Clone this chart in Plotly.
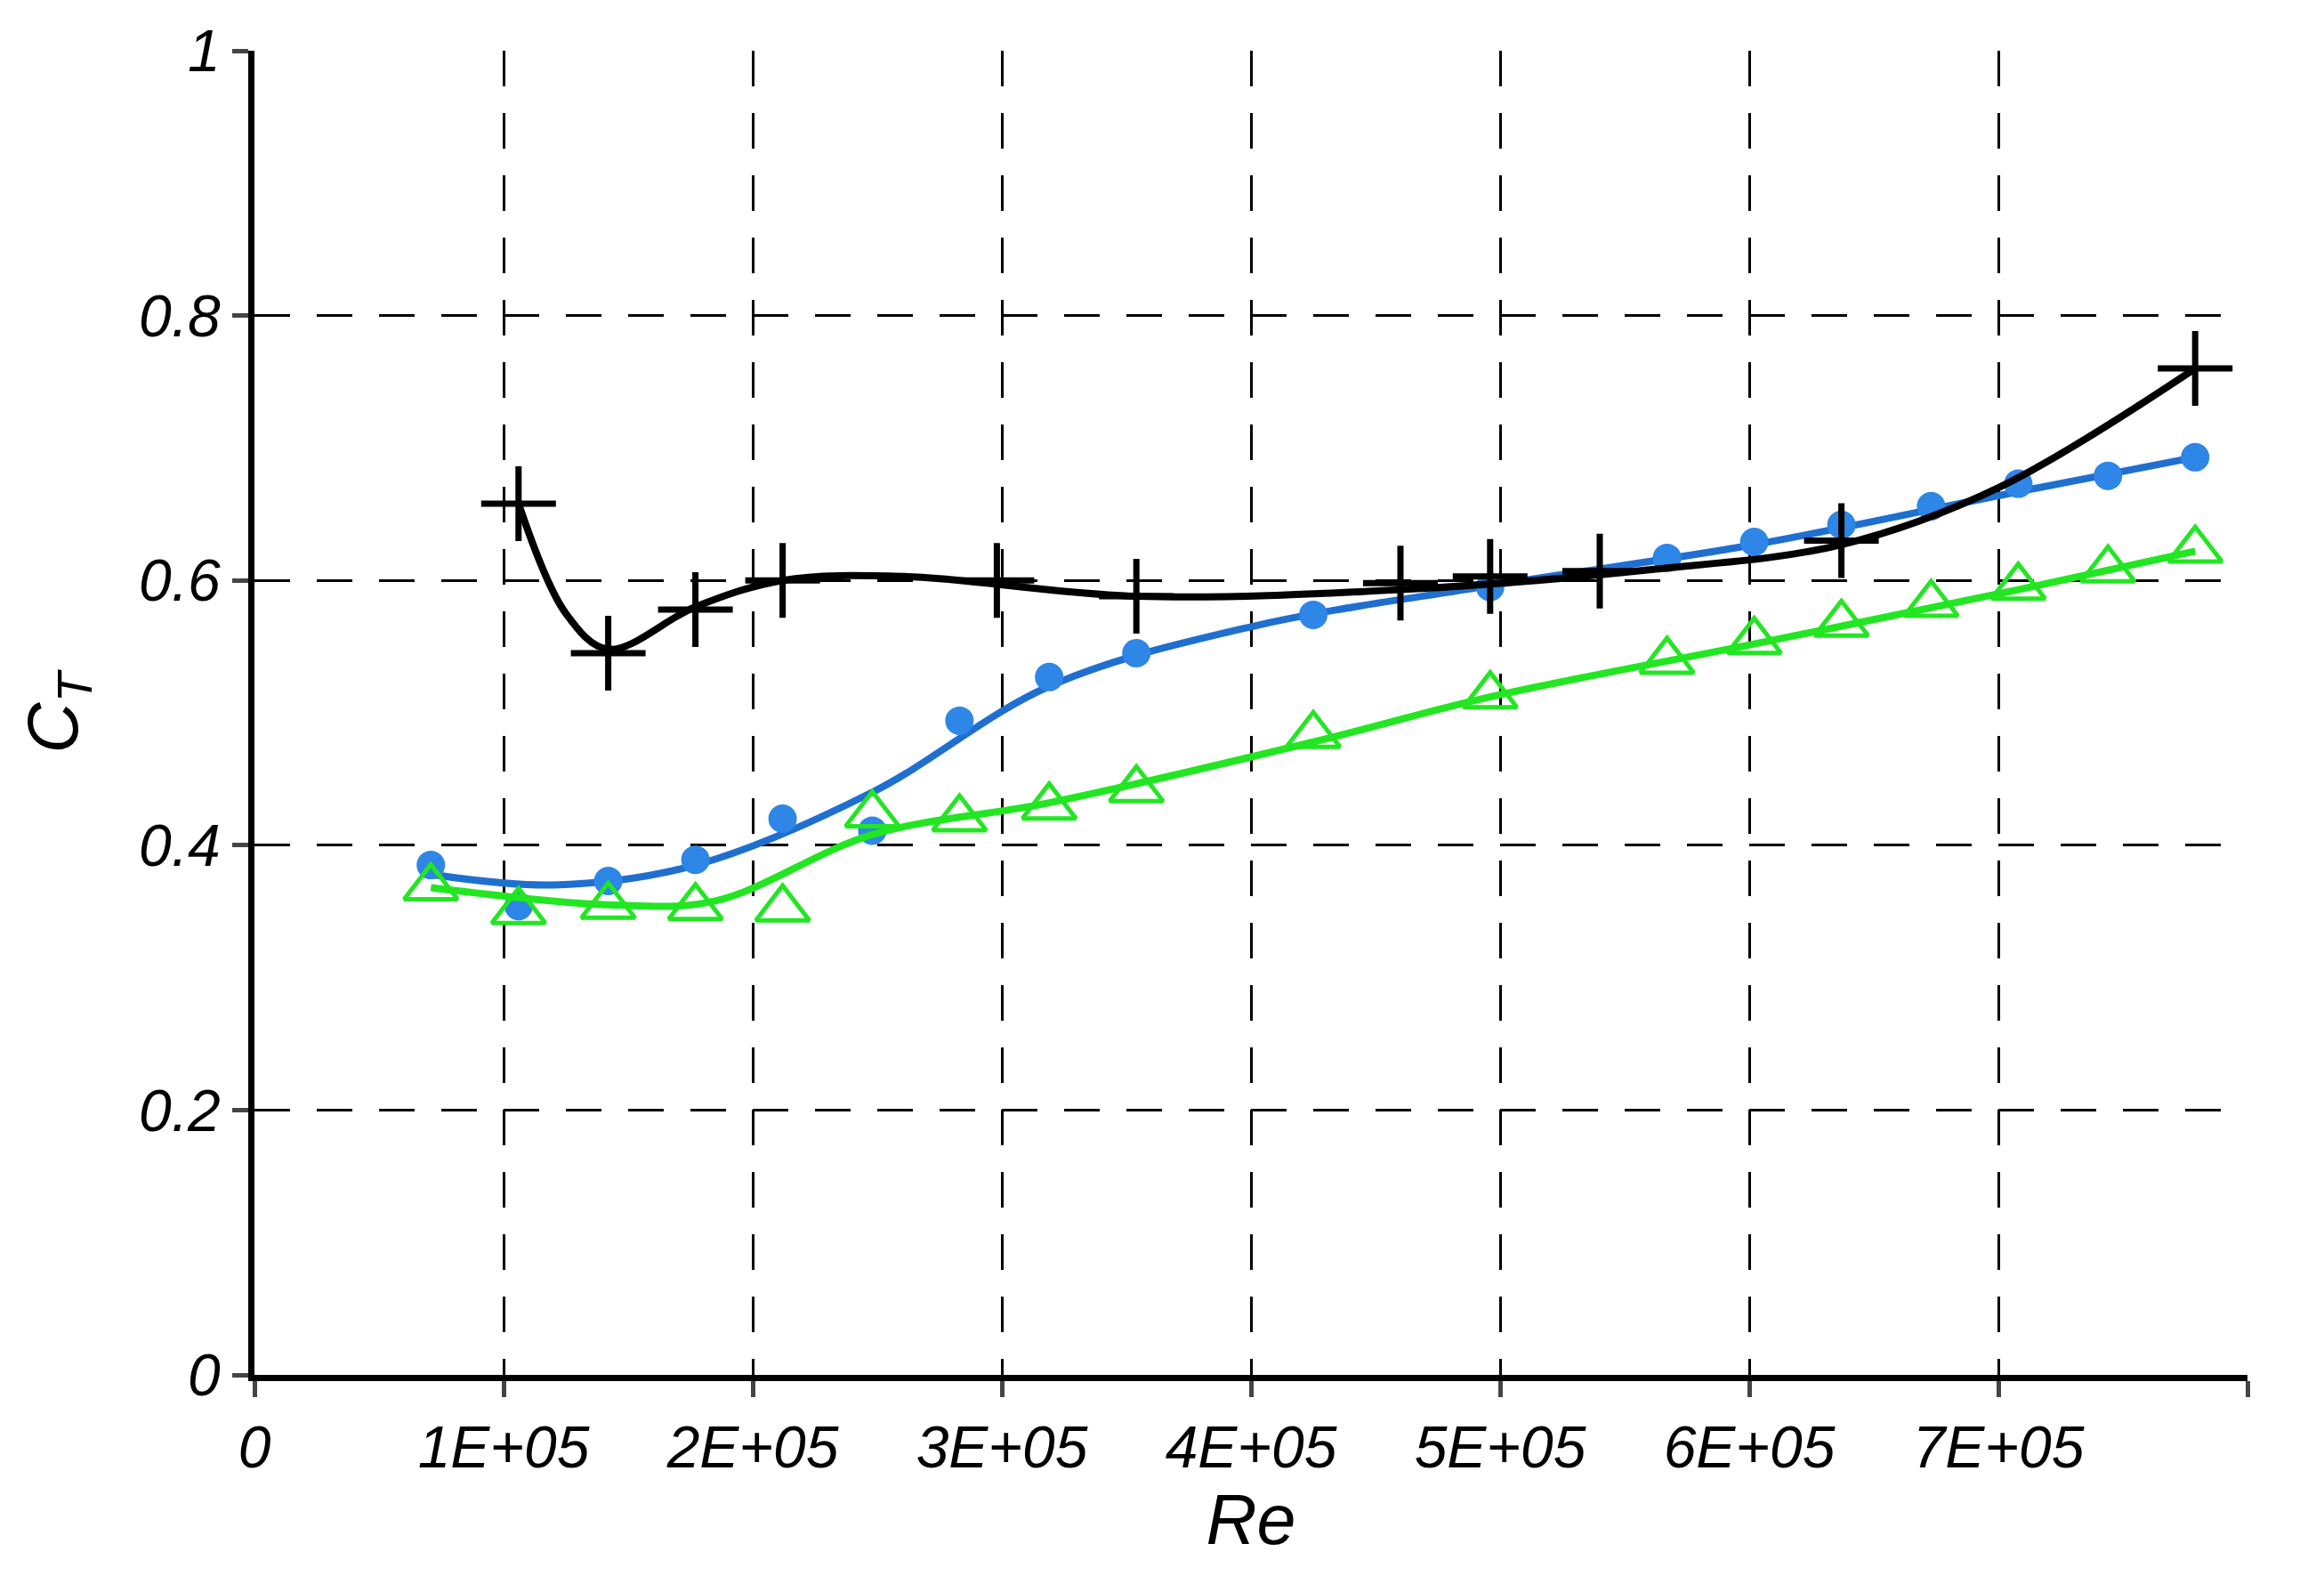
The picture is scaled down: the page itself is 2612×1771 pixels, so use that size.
import plotly.graph_objects as go

re_all = [70800, 106000, 142000, 177000, 212000, 248000, 283000, 319000, 354000,
          425000, 496000, 567000, 602000, 637000, 673000, 708000, 744000, 779000]
ct_blue = [0.385, 0.354, 0.373, 0.389, 0.420, 0.411, 0.494, 0.527, 0.545,
           0.574, 0.595, 0.617, 0.629, 0.642, 0.656, 0.673, 0.679, 0.693]
ct_green = [0.368, 0.350, 0.354, 0.353, 0.352, 0.423, 0.420, 0.429, 0.442,
            0.483, 0.513, 0.539, 0.554, 0.567, 0.582, 0.595, 0.608, 0.623]
re_black = [106000, 142000, 177000, 212000, 298000, 354000, 460000, 496000, 540000, 637000, 779000]
ct_black = [0.658, 0.545, 0.578, 0.600, 0.600, 0.588, 0.598, 0.603, 0.607, 0.630, 0.760]

tr_blue_x = [70800, 120000, 177000, 248000, 319000, 400000, 496000, 602000, 708000, 779000]
tr_blue_y = [0.378, 0.370, 0.385, 0.440, 0.520, 0.565, 0.596, 0.627, 0.667, 0.693]
tr_green_x = [70800, 142000, 185000, 248000, 319000, 425000, 496000, 602000, 708000, 779000]
tr_green_y = [0.368, 0.355, 0.358, 0.408, 0.432, 0.478, 0.512, 0.552, 0.593, 0.622]
tr_black_x = [106000, 125000, 142000, 177000, 212000, 260000, 354000, 460000, 560000, 637000, 700000, 779000]
tr_black_y = [0.658, 0.575, 0.548, 0.580, 0.600, 0.603, 0.588, 0.593, 0.608, 0.627, 0.670, 0.760]

fig = go.Figure()
fig.add_trace(go.Scatter(x=tr_blue_x, y=tr_blue_y, mode="lines", line=dict(color="#1f6fd0", width=8, shape="spline")))
fig.add_trace(go.Scatter(x=re_all, y=ct_blue, mode="markers", marker=dict(color="#2e86e6", size=32)))
fig.add_trace(go.Scatter(x=tr_green_x, y=tr_green_y, mode="lines", line=dict(color="#22e622", width=8, shape="spline")))
fig.add_trace(go.Scatter(x=re_all, y=ct_green, mode="markers",
                         marker=dict(symbol="triangle-up-open", color="#22e622", size=52, line=dict(width=5))))
fig.add_trace(go.Scatter(x=tr_black_x, y=tr_black_y, mode="lines", line=dict(color="black", width=8, shape="spline")))
fig.add_trace(go.Scatter(x=re_black, y=ct_black, mode="markers",
                         marker=dict(symbol="cross-thin-open", color="black", size=60, line=dict(width=7, color="black"))))

font = dict(family="Liberation Sans", size=66, color="black")
fig.update_layout(
    width=2612, height=1771, showlegend=False, plot_bgcolor="white", paper_bgcolor="white",
    margin=dict(l=278, r=94, t=44, b=234),
    font=font,
)
grid = dict(showgrid=True, gridcolor="black", griddash="40px,30px", gridwidth=3, zeroline=False,
            showline=True, linecolor="black", linewidth=7, ticks="outside", ticklen=18, tickwidth=5)
fig.update_xaxes(range=[0, 800000], tickvals=[i * 100000 for i in range(9)],
                 ticktext=["<i>0</i>"] + [f"<i>{i}E+05</i>" for i in range(1, 9)],
                 title=dict(text="<i>Re</i>", standoff=2), **grid)
fig.update_yaxes(range=[0, 1], tickvals=[0, 0.2, 0.4, 0.6, 0.8, 1],
                 ticktext=["<i>0</i>", "<i>0.2</i>", "<i>0.4</i>", "<i>0.6</i>", "<i>0.8</i>", "<i>1</i>"],
                 title=dict(text="<i>C<sub>T</sub></i>", standoff=45), **grid)
fig.write_html("out.html")
